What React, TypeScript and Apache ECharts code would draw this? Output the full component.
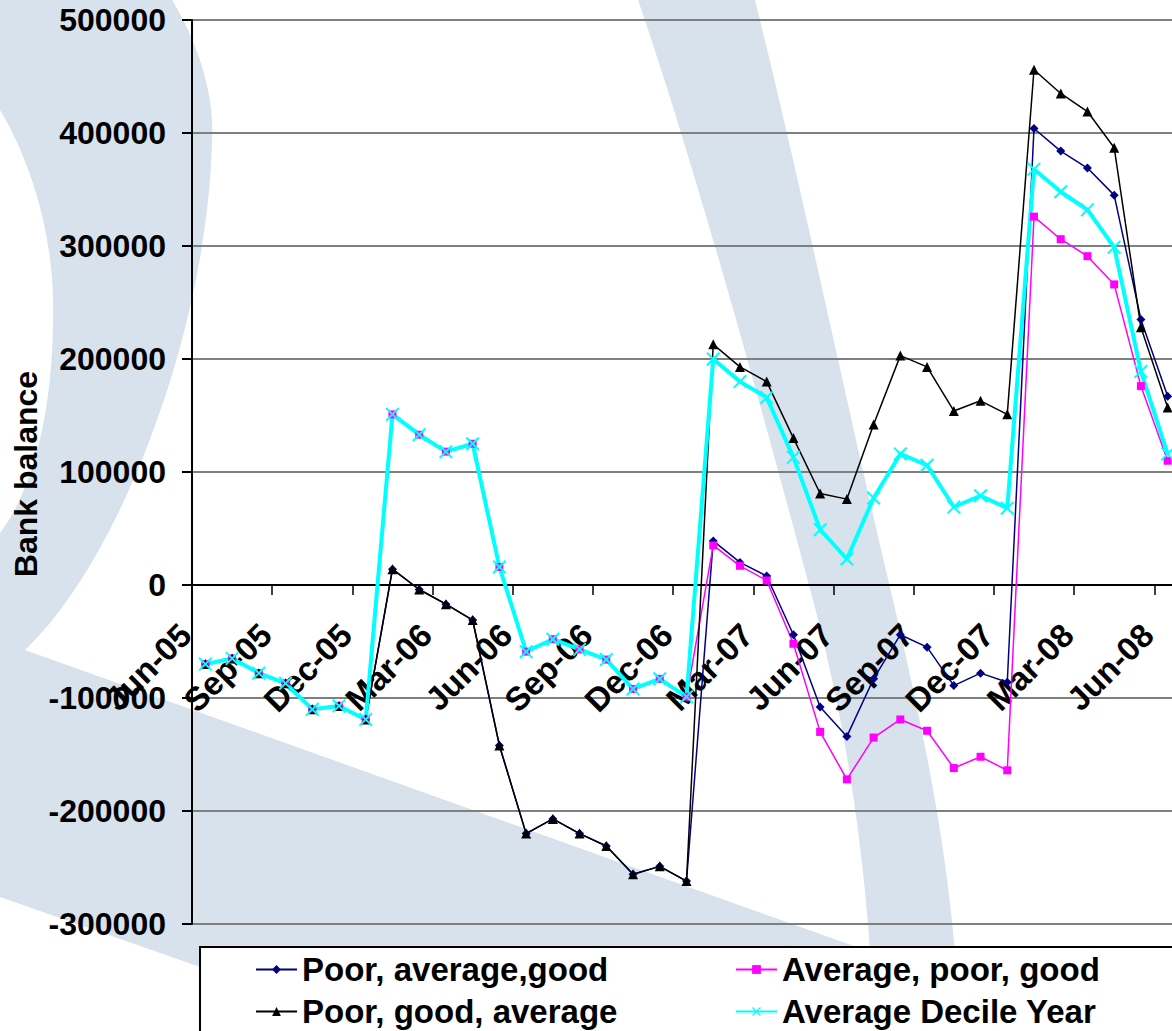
import React, { useEffect, useRef } from 'react';
import * as echarts from 'echarts';

const months = [
  'Jun-05', 'Jul-05', 'Aug-05', 'Sep-05', 'Oct-05', 'Nov-05', 'Dec-05',
  'Jan-06', 'Feb-06', 'Mar-06', 'Apr-06', 'May-06', 'Jun-06', 'Jul-06', 'Aug-06', 'Sep-06', 'Oct-06', 'Nov-06', 'Dec-06',
  'Jan-07', 'Feb-07', 'Mar-07', 'Apr-07', 'May-07', 'Jun-07', 'Jul-07', 'Aug-07', 'Sep-07', 'Oct-07', 'Nov-07', 'Dec-07',
  'Jan-08', 'Feb-08', 'Mar-08', 'Apr-08', 'May-08', 'Jun-08',
];

const poorAverageGood = [
  -70000, -65000, -78000, -87000, -110000, -107000, -119000,
  14000, -4000, -17000, -31000, -142000, -220000, -207000, -220000, -231000, -256000, -249000, -262000,
  39000, 20000, 8000, -44000, -108000, -134000, -83000, -44000, -55000, -89000, -78000, -86000,
  404000, 384000, 369000, 345000, 235000, 167000,
];

const averagePoorGood = [
  -70000, -65000, -78000, -87000, -110000, -107000, -119000,
  151000, 133000, 118000, 125000, 16000, -59000, -48000, -57000, -66000, -92000, -83000, -99000,
  35000, 17000, 4000, -52000, -130000, -172000, -135000, -119000, -129000, -162000, -152000, -164000,
  326000, 306000, 291000, 266000, 176000, 110000,
];

const poorGoodAverage = [
  -70000, -65000, -78000, -87000, -110000, -107000, -119000,
  14000, -4000, -17000, -31000, -142000, -220000, -207000, -220000, -231000, -256000, -249000, -262000,
  213000, 193000, 180000, 130000, 81000, 76000, 142000, 203000, 193000, 154000, 163000, 151000,
  456000, 435000, 419000, 387000, 228000, 157000,
];

const averageDecileYear = [
  -70000, -65000, -78000, -87000, -110000, -107000, -119000,
  151000, 133000, 118000, 125000, 16000, -59000, -48000, -57000, -66000, -92000, -83000, -99000,
  200000, 180000, 166000, 113000, 49000, 23000, 77000, 116000, 106000, 69000, 79000, 68000,
  368000, 348000, 332000, 299000, 189000, 116000,
];

const seriesNames = ['Poor, average,good', 'Average, poor, good', 'Poor, good, average', 'Average Decile Year'];
const yTitle = 'Bank balance';
const yMin = -300000;
const yMax = 500000;
const yStep = 100000;
const labelStep = 3;

const FONT = '"Liberation Sans", Arial, Helvetica, sans-serif';
const crossSymbol = 'path://M1,0L5,4L9,0L10,1L6,5L10,9L9,10L5,6L1,10L0,9L4,5L0,1Z';

const GRID_TOP = 20;
const GRID_HEIGHT = 904;
const zeroOffset = -GRID_HEIGHT * (-yMin) / (yMax - yMin);

const watermarkD =
  'M0 0 L172 0 C200 45 215 100 212 140 C208 330 120 560 25 650 L1120 1041 L1120 1289 L0 897 L0 533 ' +
  'C25 500 55 430 53 300 C52 230 30 160 0 110 Z ' +
  'M638 0 L755 0 C800 180 850 420 893 600 C930 760 955 880 962 1060 L876 1060 C870 900 855 760 813 600 C770 440 700 180 638 0 Z';

echarts.graphic.registerShape('watermark', echarts.graphic.extendPath(watermarkD, {}));

function makeSeries(name: string, values: number[], color: string, symbol: string, symbolSize: number, width: number) {
  return {
    type: 'line',
    name,
    data: values.map((v, i) => [i + 0.5, v]),
    symbol,
    symbolSize,
    showSymbol: true,
    lineStyle: { color, width },
    itemStyle: { color },
    emphasis: { disabled: true },
  };
}

const legendText = { fontSize: 33, fontWeight: 'bold', color: '#000', fontFamily: FONT };

function buildOption() {
  return {
    animation: false,
    grid: { left: 192, top: GRID_TOP, width: months.length * 26.73, height: GRID_HEIGHT, containLabel: false },
    xAxis: {
      type: 'value',
      min: 0,
      max: months.length,
      interval: labelStep,
      offset: zeroOffset,
      axisLine: { show: true, onZero: false, lineStyle: { color: '#000', width: 2 } },
      axisTick: { show: true, length: 10, lineStyle: { color: '#000', width: 1.5 } },
      splitLine: { show: false },
      axisLabel: {
        rotate: 45,
        margin: 38,
        padding: [0, 9, 0, 0],
        fontSize: 33,
        fontWeight: 'bold',
        fontFamily: FONT,
        color: '#000',
        showMinLabel: true,
        showMaxLabel: true,
        formatter: (v: number) => (v % labelStep === 0 && v < months.length ? months[v] : ''),
      },
    },
    yAxis: {
      type: 'value',
      min: yMin,
      max: yMax,
      interval: yStep,
      axisLine: { show: true, onZero: false, lineStyle: { color: '#000', width: 2 } },
      axisTick: { show: true, length: 10, lineStyle: { color: '#000', width: 2 } },
      splitLine: { show: true, lineStyle: { color: '#7f7f7f', width: 2 } },
      axisLabel: {
        fontSize: 32,
        fontWeight: 'bold',
        fontFamily: FONT,
        color: '#000',
        margin: 26,
        formatter: (v: number) => String(v),
      },
    },
    legend: [
      {
        data: [seriesNames[0], seriesNames[2]],
        orient: 'vertical',
        left: 255,
        top: 953,
        padding: 0,
        itemWidth: 41,
        itemHeight: 11,
        itemGap: 9,
        selectedMode: false,
        textStyle: legendText,
        z: 6,
      },
      {
        data: [seriesNames[1], seriesNames[3]],
        orient: 'vertical',
        left: 735,
        top: 953,
        padding: 0,
        itemWidth: 41,
        itemHeight: 11,
        itemGap: 9,
        selectedMode: false,
        textStyle: legendText,
        z: 6,
      },
    ],
    graphic: [
      { type: 'watermark', x: 0, y: 0, scaleX: 1, scaleY: 1, silent: true, z: -10, style: { fill: '#d8e2ec' } },
      {
        type: 'rect',
        silent: true,
        z: 3,
        shape: { x: 200, y: 947, width: 1100, height: 200 },
        style: { fill: '#fff', stroke: '#000', lineWidth: 2 },
      },
      {
        type: 'text',
        silent: true,
        z: 5,
        x: 25.5,
        y: 474,
        rotation: Math.PI / 2,
        style: {
          text: yTitle,
          fontSize: 32,
          fontWeight: 'bold',
          fontFamily: FONT,
          fill: '#000',
          align: 'center',
          verticalAlign: 'middle',
        },
      },
    ],
    series: [
      makeSeries(seriesNames[0], poorAverageGood, '#000080', 'diamond', 9, 1.5),
      makeSeries(seriesNames[1], averagePoorGood, '#ff00ff', 'rect', 8, 1.5),
      makeSeries(seriesNames[2], poorGoodAverage, '#000000', 'triangle', 10, 1.5),
      makeSeries(seriesNames[3], averageDecileYear, '#00ffff', crossSymbol, 14, 4),
    ],
  };
}

export default function App() {
  const ref = useRef<HTMLDivElement>(null);
  useEffect(() => {
    if (!ref.current) return;
    const chart = echarts.init(ref.current, undefined, { renderer: 'svg' });
    chart.setOption(buildOption() as any);
    return () => chart.dispose();
  }, []);
  return (
    <div
      style={{
        position: 'fixed',
        left: 0,
        top: 0,
        width: 1172,
        height: 1031,
        overflow: 'hidden',
        background: '#fff',
      }}
    >
      <div ref={ref} style={{ width: 1200, height: 1100 }} />
    </div>
  );
}
